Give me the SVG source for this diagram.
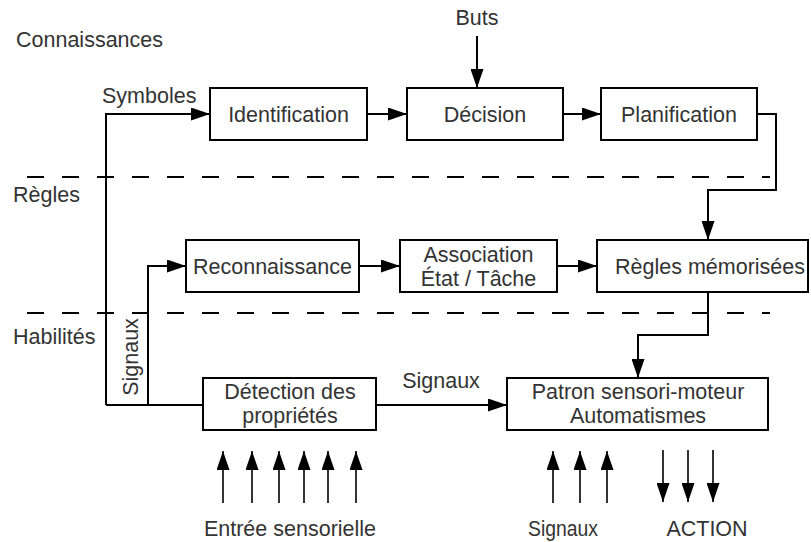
<svg xmlns="http://www.w3.org/2000/svg" width="811" height="542" viewBox="0 0 811 542">
<defs>
<marker id="ah" markerUnits="userSpaceOnUse" markerWidth="19" markerHeight="13" refX="19" refY="6.5" orient="auto">
<path d="M0,0 L19,6.5 L0,13 Z" fill="#000"/>
</marker>
<style>
text{font-family:"Liberation Sans",Arial,sans-serif;font-size:21.5px;fill:#333}
.m{text-anchor:middle}
.box{fill:#fff;stroke:#000;stroke-width:2}
.ln{fill:none;stroke:#000;stroke-width:2}
.ar{fill:none;stroke:#000;stroke-width:2;marker-end:url(#ah)}
.ar2{fill:none;stroke:#000;stroke-width:1.6;marker-end:url(#ah)}
.dash{fill:none;stroke:#000;stroke-width:2;stroke-dasharray:17 18}
</style>
</defs>
<rect width="811" height="542" fill="#fff"/>
<g id="levels">
<line class="dash" x1="27" y1="177" x2="770" y2="177"/>
<line class="dash" x1="27" y1="313" x2="770" y2="313"/>
<text x="16" y="47">Connaissances</text>
<text x="13" y="202">Règles</text>
<text x="13" y="344">Habilités</text>
</g>
<g id="connectors">
<path class="ar" d="M106,405 V114 H210"/>
<path class="ln" d="M106,405 H203"/>
<path class="ar" d="M148,405 V266 H186"/>
<path class="ar" d="M367,114 H407"/>
<path class="ar" d="M563,114 H601"/>
<path class="ar" d="M477,36 V88"/>
<path class="ar" d="M757,114 H776 V190 H708 V240"/>
<path class="ar" d="M359,266 H400"/>
<path class="ar" d="M557,266 H597"/>
<path class="ar" d="M708,292 V335 H638 V378"/>
<path class="ar" d="M376,405 H507"/>
<path class="ar2" d="M223,503 V451"/>
<path class="ar2" d="M252,503 V451"/>
<path class="ar2" d="M279,503 V451"/>
<path class="ar2" d="M304,503 V451"/>
<path class="ar2" d="M328,503 V451"/>
<path class="ar2" d="M356,503 V451"/>
<path class="ar2" d="M553,503 V451"/>
<path class="ar2" d="M580,503 V451"/>
<path class="ar2" d="M607,503 V451"/>
<path class="ar2" d="M663,450 V502"/>
<path class="ar2" d="M688,450 V502"/>
<path class="ar2" d="M713,450 V502"/>
<text x="102" y="103">Symboles</text>
<text class="m" x="477" y="25">Buts</text>
<text class="m" transform="translate(138,357) rotate(-90)">Signaux</text>
<text class="m" x="441" y="388">Signaux</text>
<text class="m" x="290" y="536">Entrée sensorielle</text>
<text class="m" x="563" y="536" textLength="70" lengthAdjust="spacingAndGlyphs">Signaux</text>
<text class="m" x="707" y="536">ACTION</text>
</g>
<g id="identification"><rect class="box" x="210" y="88" width="157" height="52"/><text class="m" x="288.5" y="122">Identification</text></g>
<g id="decision"><rect class="box" x="407" y="88" width="156" height="52"/><text class="m" x="485" y="122">Décision</text></g>
<g id="planification"><rect class="box" x="601" y="88" width="156" height="52"/><text class="m" x="679" y="122">Planification</text></g>
<g id="reconnaissance"><rect class="box" x="186" y="240" width="173" height="52"/><text class="m" x="272.5" y="274">Reconnaissance</text></g>
<g id="association"><rect class="box" x="400" y="240" width="157" height="52"/><text class="m" x="478.5" y="262">Association</text><text class="m" x="478.5" y="286">État / Tâche</text></g>
<g id="regles"><rect class="box" x="597" y="240" width="211" height="52"/><text class="m" x="710" y="274">Règles mémorisées</text></g>
<g id="detection"><rect class="box" x="203" y="378" width="173" height="52"/><text class="m" x="290" y="399">Détection des</text><text class="m" x="290" y="423">propriétés</text></g>
<g id="patron"><rect class="box" x="507" y="378" width="261" height="52"/><text class="m" x="638" y="399">Patron sensori-moteur</text><text class="m" x="638" y="423">Automatismes</text></g>
</svg>
